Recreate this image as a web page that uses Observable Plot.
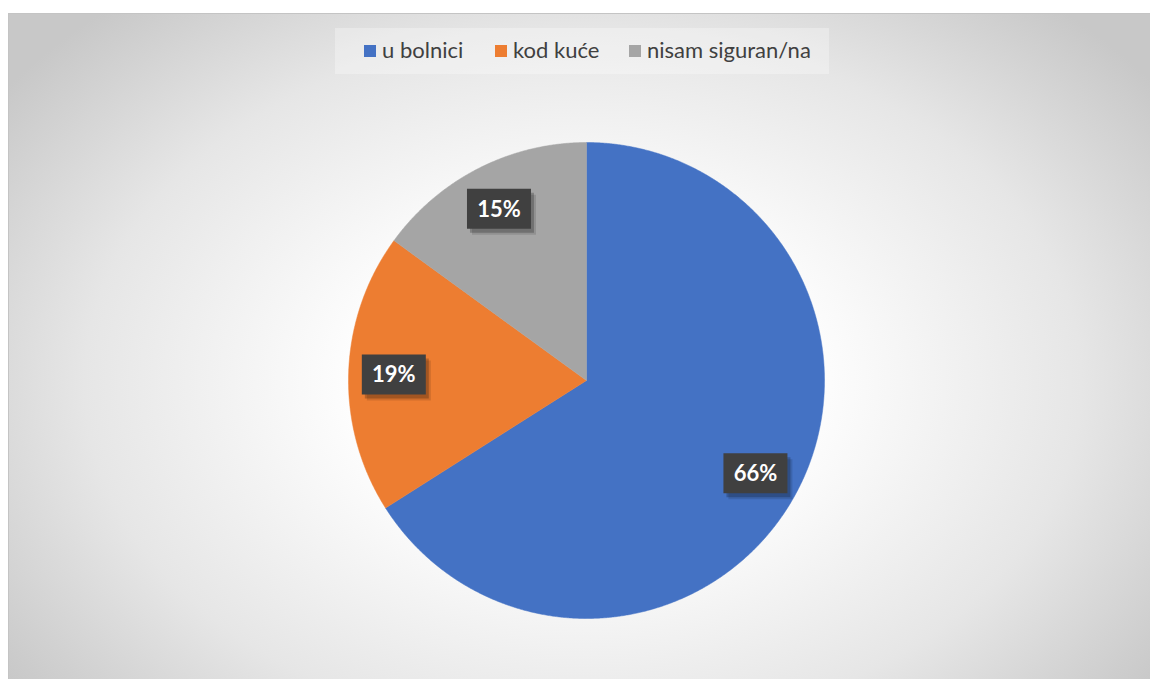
<!DOCTYPE html>
<html>
<head>
<meta charset="utf-8">
<script src="https://cdn.jsdelivr.net/npm/d3@7"></script>
<script src="https://cdn.jsdelivr.net/npm/@observablehq/plot@0.6"></script>
<style>
  html, body { margin: 0; padding: 0; background: #fff; width: 1150px; height: 679px; overflow: hidden; }
  #frame {
    position: absolute; left: 8px; top: 13px; width: 1150px; height: 672px;
    border: 1px solid #c4c4c4; box-sizing: border-box;
    background: radial-gradient(ellipse 62% 75% at 50% 55%, #ffffff 0%, #ffffff 30%, #e6e6e6 70%, #c8c8c8 100%);
  }
  #legend {
    position: absolute; left: 335px; top: 28px; width: 494px; height: 46px;
    background: rgba(255,255,255,0.3);
    font-family: Lato, "Open Sans", sans-serif; font-size: 22px; color: #404040;
  }
  .item { position: absolute; top: 9px; white-space: nowrap; line-height: 26px; }
  .sw { display: inline-block; width: 12px; height: 12px; margin-right: 6px; vertical-align: 1px; }
  #chart { position: absolute; left: 0; top: 0; }
</style>
</head>
<body>
<div id="frame"></div>
<div id="legend"></div>
<div id="chart"></div>
<script>
const categories = ["u bolnici", "kod kuće", "nisam siguran/na"];
const values = [66, 19, 15];
const labels = ["66%", "19%", "15%"];
const colors = ["#4472C4", "#ED7D31", "#A5A5A5"];

// legend
const legendLeft = [29, 160, 294];
const legend = document.getElementById("legend");
categories.forEach((c, i) => {
  const d = document.createElement("div");
  d.className = "item";
  d.style.left = legendLeft[i] + "px";
  d.innerHTML = `<span class="sw" style="background:${colors[i]}"></span>${c}`;
  legend.appendChild(d);
});

const data = categories.map((c, i) => ({category: c, value: values[i], label: labels[i], color: colors[i]}));
const arcs = d3.pie().sort(null).value(d => d.value)(data);

// slice polygons in unit-circle data coordinates (angles clockwise from 12 o'clock)
const marks = [];
arcs.forEach(a => {
  const pts = [{x: 0, y: 0}];
  const n = Math.max(2, Math.ceil((a.endAngle - a.startAngle) / 0.005));
  for (let k = 0; k <= n; k++) {
    const t = a.startAngle + (a.endAngle - a.startAngle) * k / n;
    pts.push({x: Math.sin(t), y: Math.cos(t)});
  }
  pts.push({x: 0, y: 0});
  marks.push(Plot.line(pts, {x: "x", y: "y", fill: a.data.color, stroke: a.data.color, strokeWidth: 0.5, curve: "linear"}));
});

const labelR = 0.81;
const labelData = arcs.map(a => {
  const m = (a.startAngle + a.endAngle) / 2;
  return {x: labelR * Math.sin(m), y: labelR * Math.cos(m), label: a.data.label};
});
const boxSymbol = {draw(ctx) { ctx.moveTo(-32, -20); ctx.lineTo(32, -20); ctx.lineTo(32, 20); ctx.lineTo(-32, 20); ctx.closePath(); }};

marks.push(Plot.dot(labelData, {x: "x", y: "y", symbol: boxSymbol, fill: "#000", fillOpacity: 0.22, stroke: null, dx: 3, dy: 4}));
marks.push(Plot.dot(labelData, {x: "x", y: "y", symbol: boxSymbol, fill: "#000", fillOpacity: 0.12, stroke: null, dx: 5, dy: 6}));
marks.push(Plot.dot(labelData, {x: "x", y: "y", symbol: boxSymbol, fill: "#404040", stroke: null}));
marks.push(Plot.text(labelData, {x: "x", y: "y", text: "label", fill: "white", fontSize: 22, fontWeight: "bold", fontFamily: "Lato, 'Open Sans', sans-serif", dy: 1}));

const plot = Plot.plot({
  width: 1150,
  height: 679,
  style: {background: "transparent"},
  x: {domain: [-1, 1], range: [348, 824], axis: null},
  y: {domain: [-1, 1], range: [618, 142], axis: null},
  marks
});
document.getElementById("chart").appendChild(plot);
</script>
</body>
</html>
